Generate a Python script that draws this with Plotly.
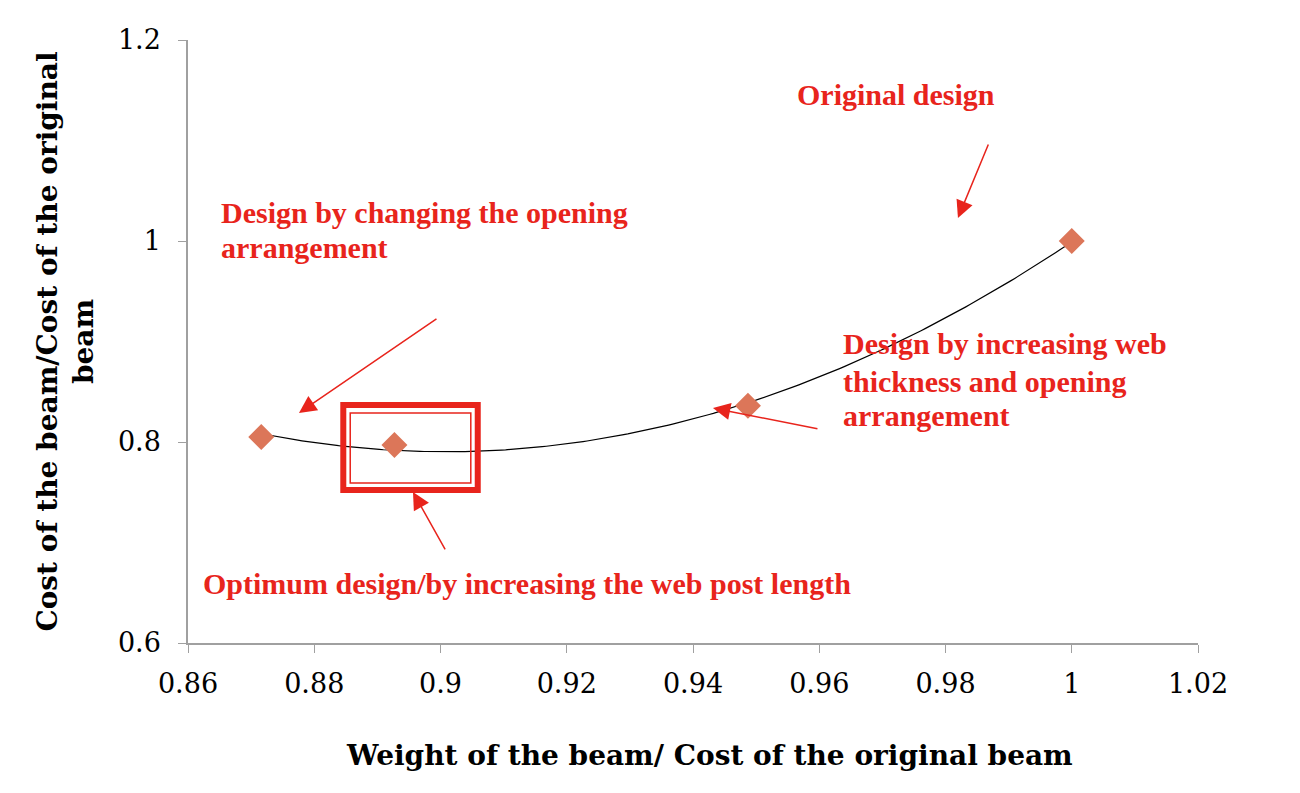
import numpy as np
import plotly.graph_objects as go

# Designs: weight ratio vs cost ratio
weight_ratio = [0.8716, 0.8927, 0.9487, 1.0]
cost_ratio = [0.805, 0.797, 0.836, 1.0]

x_ticks = [0.86, 0.88, 0.9, 0.92, 0.94, 0.96, 0.98, 1.0, 1.02]
x_ticktext = ["0.86", "0.88", "0.9", "0.92", "0.94", "0.96", "0.98", "1", "1.02"]
y_ticks = [0.6, 0.8, 1.0, 1.2]
y_ticktext = ["0.6", "0.8", "1", "1.2"]

RED = "#e8241c"
SERIF = "Georgia, 'DejaVu Serif', serif"
TIMES = "'Liberation Serif', 'Times New Roman', serif"

# polynomial trendline (order 2), like the spreadsheet one
coef = np.polyfit(weight_ratio, cost_ratio, 2)
xt = np.linspace(min(weight_ratio), max(weight_ratio), 200)
yt = np.polyval(coef, xt)

fig = go.Figure()
fig.add_trace(go.Scatter(x=xt, y=yt, mode="lines",
                         line=dict(color="black", width=1.2), hoverinfo="skip"))
fig.add_trace(go.Scatter(x=weight_ratio, y=cost_ratio, mode="markers",
                         marker=dict(symbol="diamond", size=20, color="#dc7659")))

# highlight box around the optimum design (double border)
fig.add_shape(type="rect", x0=0.8846, x1=0.9059, y0=0.7522, y1=0.8368,
              line=dict(color=RED, width=6))
fig.add_shape(type="rect", x0=0.8857, x1=0.9048, y0=0.7592, y1=0.8289,
              line=dict(color=RED, width=1.5))

# red labels, one annotation per line: (x, y, text, anchor)
txt = dict(family=TIMES, size=30, color=RED)
labels = [
    (0.9721, 1.1453, "Original design", "center"),
    (0.8649, 1.0283, "Design by changing the opening", "left"),
    (0.8649, 0.9935, "arrangement", "left"),
    (0.9634, 0.8985, "Design by increasing web", "left"),
    (0.9634, 0.8607, "thickness and opening", "left"),
    (0.9634, 0.8259, "arrangement", "left"),
    (0.8621, 0.6597, "Optimum design/by increasing the web post length", "left"),
]
for lx, ly, s, anchor in labels:
    fig.add_annotation(x=lx, y=ly, text="<b>" + s + "</b>", showarrow=False,
                       font=txt, xanchor=anchor, yanchor="middle")

# arrows (head at x,y; tail offset ax,ay in px)
arrows = [(0.98197, 1.0229, 31, -75), (0.87758, 0.8289, 139, -95),
          (0.94316, 0.8338, 106, 21), (0.89564, 0.7503, 33, 59)]
for hx, hy, ax, ay in arrows:
    fig.add_annotation(x=hx, y=hy, ax=ax, ay=ay, text="", showarrow=True,
                       arrowhead=2, arrowsize=2.3, arrowwidth=1.5, arrowcolor=RED)

# axis titles
fig.add_annotation(x=0.516, y=-0.186, xref="paper", yref="paper",
                   text="<b>Weight of the beam/ Cost of the original beam</b>",
                   showarrow=False, font=dict(family=SERIF, size=28),
                   xanchor="center", yanchor="middle")

fig.update_layout(
    width=1300, height=793,
    margin=dict(l=180, r=110, t=32, b=158),
    plot_bgcolor="white", paper_bgcolor="white",
    showlegend=False,
    font=dict(family=SERIF, color="black"),
)
fig.update_xaxes(range=[0.86, 1.02], tickvals=x_ticks, ticktext=x_ticktext,
                 showgrid=False, zeroline=False, showline=True, linecolor="#a0a0a0",
                 linewidth=1.5, ticks="outside", tickcolor="#a0a0a0", ticklen=8,
                 ticklabelstandoff=8, tickfont=dict(family=SERIF, size=27))
fig.update_yaxes(range=[0.6, 1.2], tickvals=y_ticks, ticktext=y_ticktext,
                 showgrid=False, zeroline=False, showline=True, linecolor="#a0a0a0",
                 linewidth=1.5, ticks="outside", tickcolor="#a0a0a0", ticklen=8,
                 ticklabelstandoff=12, tickfont=dict(family=SERIF, size=27),
                 title=dict(text="<b>Cost of the beam/Cost of the original<br>beam</b>",
                            font=dict(family=SERIF, size=28), standoff=16))

fig.write_html("out.html")
